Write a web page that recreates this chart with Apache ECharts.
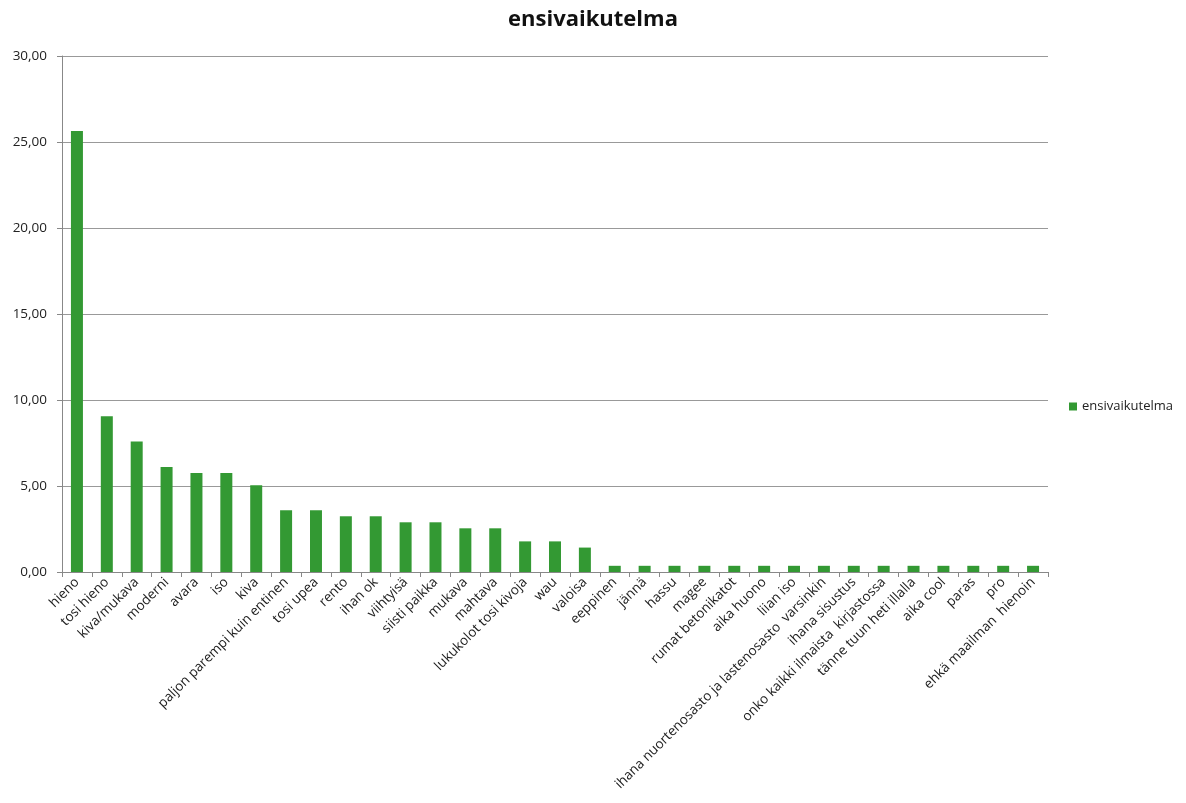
<!DOCTYPE html>
<html>
<head>
<meta charset="utf-8">
<script src="https://cdn.jsdelivr.net/npm/echarts@6/dist/echarts.min.js"></script>
<style>html,body{margin:0;padding:0;background:#fff}#c{width:1186px;height:803px}</style>
</head>
<body>
<div id="c"></div>
<script>
const categories = ["hieno","tosi hieno","kiva/mukava","moderni","avara","iso","kiva","paljon parempi kuin entinen","tosi upea","rento","ihan ok","viihtyisä","siisti paikka","mukava","mahtava","lukukolot tosi kivoja","wau","valoisa","eeppinen","jännä","hassu","magee","rumat betonikatot","aika huono","liian iso","ihana nuortenosasto ja lastenosasto  varsinkin","ihana sisustus","onko kaikki ilmaista  kirjastossa","tänne tuun heti illalla","aika cool","paras","pro","ehkä maailman  hienoin"];
const values = [25.64,9.05,7.58,6.10,5.76,5.76,5.04,3.59,3.59,3.24,3.24,2.89,2.89,2.54,2.54,1.78,1.78,1.42,0.36,0.36,0.36,0.36,0.36,0.36,0.36,0.36,0.36,0.36,0.36,0.36,0.36,0.36,0.36];
const yTicks = {min:0, max:30, interval:5};
const seriesName = "ensivaikutelma";
const font = "'Open Sans', 'Noto Sans', sans-serif";
const chart = echarts.init(document.getElementById('c'));
chart.setOption({
  animation:false,
  title:{text:"ensivaikutelma", left:'center', top:4, textStyle:{fontFamily:font, fontSize:22, fontWeight:'bold', color:'#111'}},
  legend:{data:[seriesName], orient:'vertical', left:1064, top:395, itemWidth:8, itemHeight:8, itemGap:5, icon:'rect', textStyle:{fontFamily:font, fontSize:13, color:'#222'}},
  grid:{left:62, right:138, top:56, bottom:231},
  xAxis:{type:'category', data:categories, boundaryGap:true,
    axisLine:{lineStyle:{color:'#888'}},
    axisTick:{show:true, alignWithLabel:false, length:5, lineStyle:{color:'#888'}},
    axisLabel:{interval:0, rotate:45, fontFamily:font, fontSize:13.5, color:'#222', margin:8}},
  yAxis:{type:'value', min:yTicks.min, max:yTicks.max, interval:yTicks.interval,
    axisLine:{show:true, lineStyle:{color:'#888'}},
    axisTick:{show:true, length:5, lineStyle:{color:'#888'}},
    splitLine:{lineStyle:{color:'#999'}},
    axisLabel:{fontFamily:font, fontSize:13.5, color:'#222', margin:15, formatter:v=>v.toFixed(2).replace('.',',')}},
  series:[{name:seriesName, type:'bar', data:values, barWidth:12, itemStyle:{color:'#339933'}}]
});
</script>
</body>
</html>
